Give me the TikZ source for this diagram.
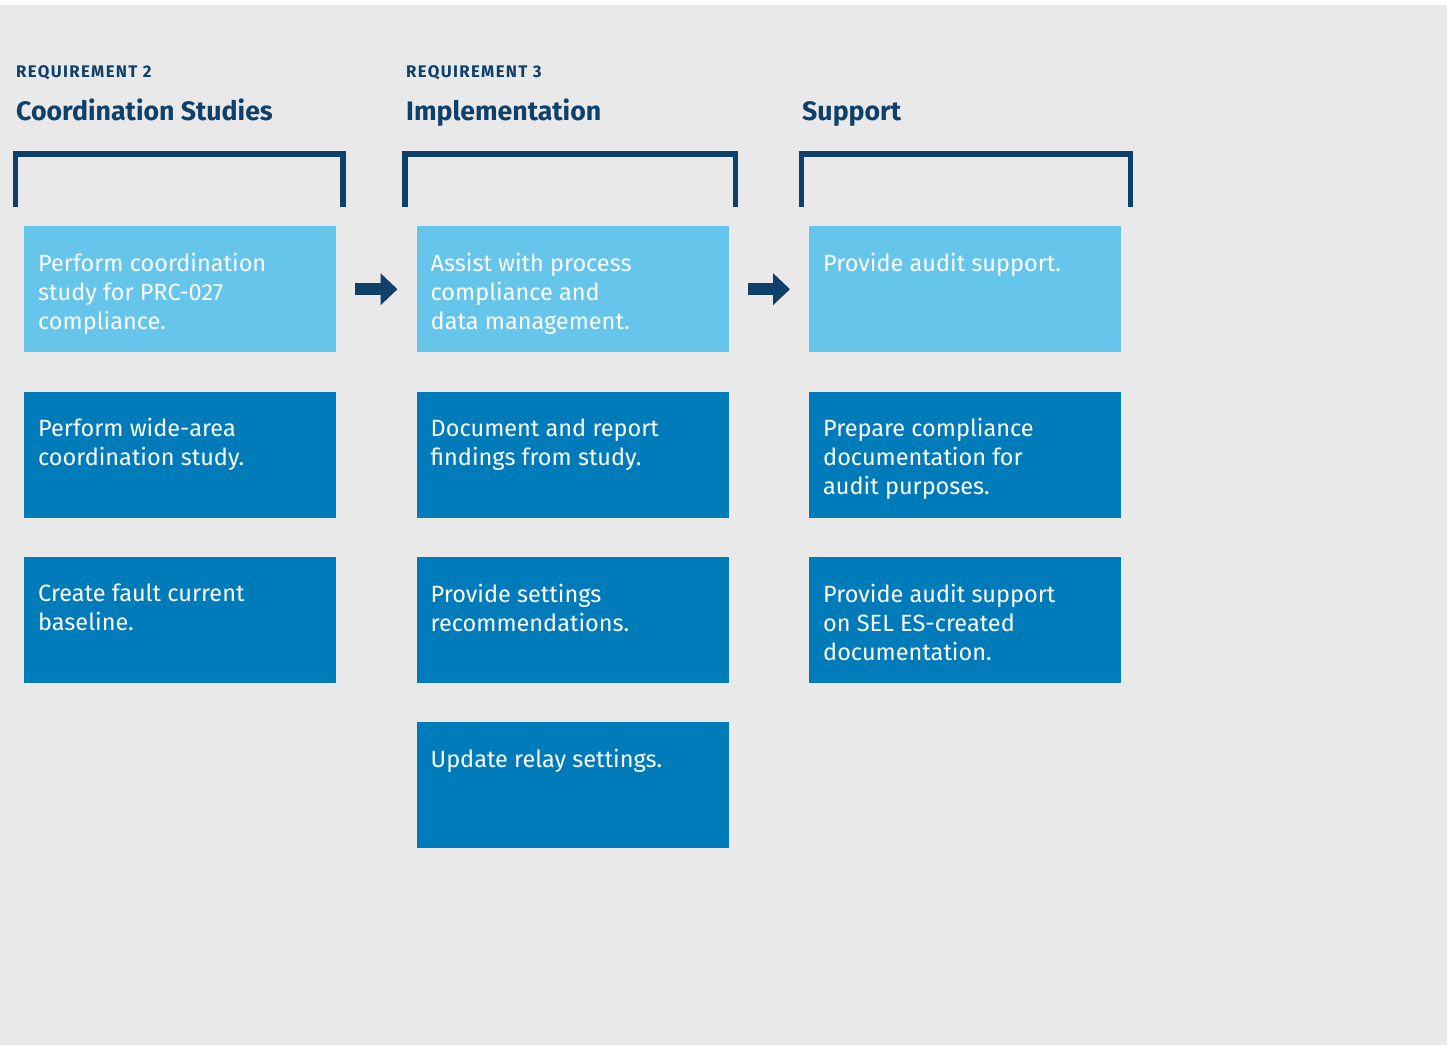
\documentclass[tikz,border=0pt]{standalone}
\usepackage{fontspec}
\setmainfont{Fira Sans}
\newfontfamily\reqfont{Fira Sans}[LetterSpace=8]
\usetikzlibrary{arrows.meta}

\definecolor{navy}{HTML}{0E406A}
\definecolor{skyblue}{HTML}{65C5EB}
\definecolor{selblue}{HTML}{007BBA}
\definecolor{bggray}{HTML}{E9E9E9}

\tikzset{
  box/.style={anchor=north west, inner sep=0pt, minimum width=312pt, minimum height=126pt},
  boxtext/.style={anchor=north west, inner sep=0pt, align=left, text=white,
    font=\fontsize{23.5}{29}\selectfont},
  req/.style={anchor=base west, inner sep=0pt, text=navy,
    font=\reqfont\fontsize{16.8}{20}\selectfont\bfseries},
  heading/.style={anchor=base west, inner sep=0pt, text=navy,
    font=\fontsize{26.7}{33}\selectfont\bfseries},
  bracket/.style={draw=navy, line width=5.5pt, miter limit=10},
  flow/.style={-{Triangle[length=17pt, width=31pt]}, draw=navy, line width=12pt,
    shorten <=19pt, shorten >=19pt}
}

\begin{document}
\begin{tikzpicture}[x=1pt, y=-1pt]

\useasboundingbox (0,0) rectangle (1447,1045);
\fill[white] (0,0) rectangle (1447,1045);
\fill[bggray] (0,5) rectangle (1447,1045);

% column headings
\node [req] (req2) at (16,77) {REQUIREMENT 2};
\node [req] (req3) at (406,77) {REQUIREMENT 3};
\node [heading] (head1) at (16,120) {Coordination Studies};
\node [heading] (head2) at (406,120) {Implementation};
\node [heading] (head3) at (802,120) {Support};

% brackets
\foreach \lx/\rx in {15.5/343, 405/735.5, 801.5/1130.3}
  \draw [bracket] (\lx,207) -- (\lx,154) -- (\rx,154) -- (\rx,207);

% boxes
\foreach \col/\row/\clr/\txt in {
  1/1/skyblue/{Perform coordination\\study for PRC-027\\compliance.},
  1/2/selblue/{Perform wide-area\\coordination study.},
  1/3/selblue/{Create fault current\\baseline.},
  2/1/skyblue/{Assist with process\\compliance and\\data management.},
  2/2/selblue/{Document and report\\findings from study.},
  2/3/selblue/{Provide settings\\recommendations.},
  2/4/selblue/{Update relay settings.},
  3/1/skyblue/{Provide audit support.},
  3/2/selblue/{Prepare compliance\\documentation for\\audit purposes.},
  3/3/selblue/{Provide audit support\\on SEL ES-created\\documentation.}%
}{
  \node [box, fill=\clr] (b\col\row) at ({24+(\col-1)*392.5}, {226+(\row-1)*165.3}) {};
  \node [boxtext] (t\col\row) at ([shift={(14,27)}]b\col\row.north west) {\txt};
}

% arrows between columns
\draw [flow] (b11) -- (b21);
\draw [flow] (b21) -- (b31);

\end{tikzpicture}
\end{document}
